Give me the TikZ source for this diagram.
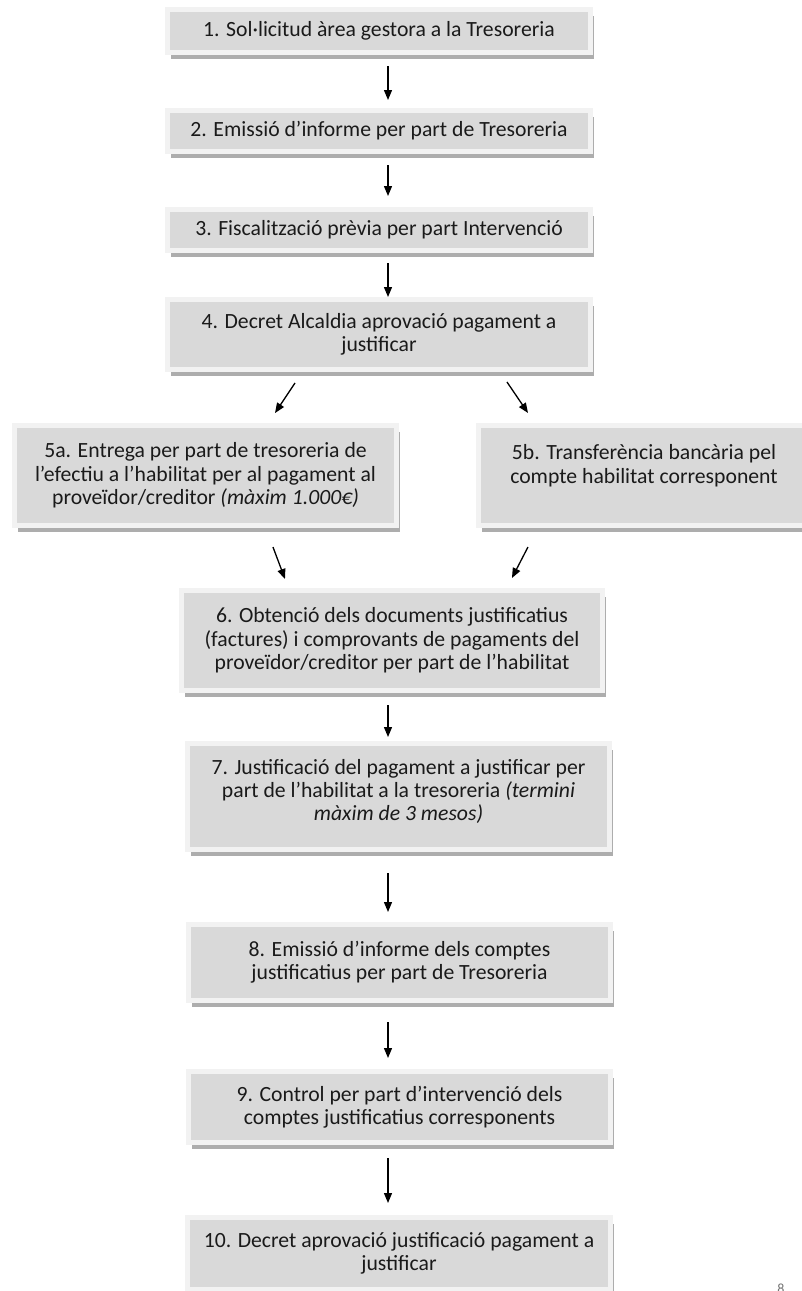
\documentclass[tikz,border=0pt]{standalone}
\usepackage{fontspec}
\setmainfont{Carlito}
\usetikzlibrary{arrows.meta,shadows}
\definecolor{boxfill}{HTML}{D9D9D9}
\definecolor{boxedge}{HTML}{F2F2F2}
\definecolor{boxshadow}{HTML}{ADADAD}
\definecolor{txt}{HTML}{1A1A1A}
\begin{document}
\begin{tikzpicture}[x=1pt,y=-1pt,
  box/.style={rectangle, fill=boxfill, draw=boxedge, line width=4.5pt,
    inner sep=0pt, outer sep=0pt, align=center,
    font=\fontsize{21.7}{23.3}\selectfont, text=txt,
    drop shadow={shadow xshift=3pt, shadow yshift=-6pt, fill=boxshadow, opacity=1}},
  arr/.style={-{Triangle[length=10pt,width=8pt]}, line width=1.3pt, black}]
\useasboundingbox (0,0) rectangle (802,1291);
\fill[white] (0,0) rectangle (802,1291);

\node[box, minimum width=423pt, minimum height=43pt] (b1) at (379,31)
  {1. Sol·licitud àrea gestora a la Tresoreria};
\node[box, minimum width=423pt, minimum height=41pt] (b2) at (379,131)
  {2. Emissió d’informe per part de Tresoreria};
\node[box, minimum width=423pt, minimum height=41pt] (b3) at (379,230)
  {3. Fiscalització prèvia per part Intervenció};
\node[box, minimum width=423pt, minimum height=70pt] (b4) at (379,334.5)
  {4. Decret Alcaldia aprovació pagament a\\justificar};
\node[box, minimum width=382pt, minimum height=100pt] (b5a) at (205.5,475.5)
  {5a. Entrega per part de tresoreria de\\l’efectiu a l’habilitat per al pagament al\\proveïdor/creditor \textit{(màxim 1.000€)}};
\node[box, minimum width=331pt, minimum height=100pt] (b5b) at (644,475.5)
  {5b. Transferència bancària pel\\compte habilitat corresponent\\\mbox{}};
\node[box, minimum width=421pt, minimum height=100pt] (b6) at (392,640.5)
  {6. Obtenció dels documents justificatius\\(factures) i comprovants de pagaments del\\proveïdor/creditor per part de l’habilitat};
\node[box, minimum width=422pt, minimum height=106pt] (b7) at (398.5,796.5)
  {7. Justificació del pagament a justificar per\\part de l’habilitat a la tresoreria \textit{(termini}\\\textit{màxim de 3 mesos)}\\[-10pt]\mbox{}};
\node[box, minimum width=422pt, minimum height=76pt] (b8) at (399.5,962.5)
  {8. Emissió d’informe dels comptes\\justificatius per part de Tresoreria};
\node[box, minimum width=422pt, minimum height=71pt] (b9) at (399.5,1107)
  {9. Control per part d’intervenció dels\\comptes justificatius corresponents};
\node[box, minimum width=423pt, minimum height=72pt] (b10) at (399,1253.5)
  {10. Decret aprovació justificació pagament a\\justificar};

\node[font=\fontsize{14}{16}\selectfont, text=black!55, inner sep=0pt, anchor=north] (pg) at (781,1284) {8};

\draw[arr, shorten <=13.5pt, shorten >=10.5pt] ([xshift=9pt]b1.south) -- ([xshift=9pt]b2.north);
\draw[arr, shorten <=13.5pt, shorten >=13.5pt] ([xshift=9pt]b2.south) -- ([xshift=9pt]b3.north);
\draw[arr, shorten <=12.5pt, shorten >=2.5pt] ([xshift=9pt]b3.south) -- ([xshift=9pt]b4.north);
\draw[arr, shorten <=16.2pt, shorten >=15pt] ([xshift=-75pt]b4.south) -- ([xshift=61.2pt]b5a.north);
\draw[arr, shorten <=15.1pt, shorten >=15.1pt] ([xshift=119.5pt]b4.south) -- ([xshift=-107.5pt]b5b.north);
\draw[arr, shorten <=23pt, shorten >=12.3pt] ([xshift=59.4pt]b5a.south) -- ([xshift=-102.7pt]b6.north);
\draw[arr, shorten <=24.2pt, shorten >=14.1pt] ([xshift=-104.9pt]b5b.south) -- ([xshift=113.5pt]b6.north);
\draw[arr, shorten <=14.5pt, shorten >=6.5pt] ([xshift=-4pt]b6.south) -- ([xshift=-10.5pt]b7.north);
\draw[arr, shorten <=23.5pt, shorten >=12.5pt] ([xshift=-10.5pt]b7.south) -- ([xshift=-11.5pt]b8.north);
\draw[arr, shorten <=21.5pt, shorten >=13.5pt] ([xshift=-11.5pt]b8.south) -- ([xshift=-11.5pt]b9.north);
\draw[arr, shorten <=15.5pt, shorten >=14.5pt] ([xshift=-11.5pt]b9.south) -- ([xshift=-11pt]b10.north);
\end{tikzpicture}
\end{document}
